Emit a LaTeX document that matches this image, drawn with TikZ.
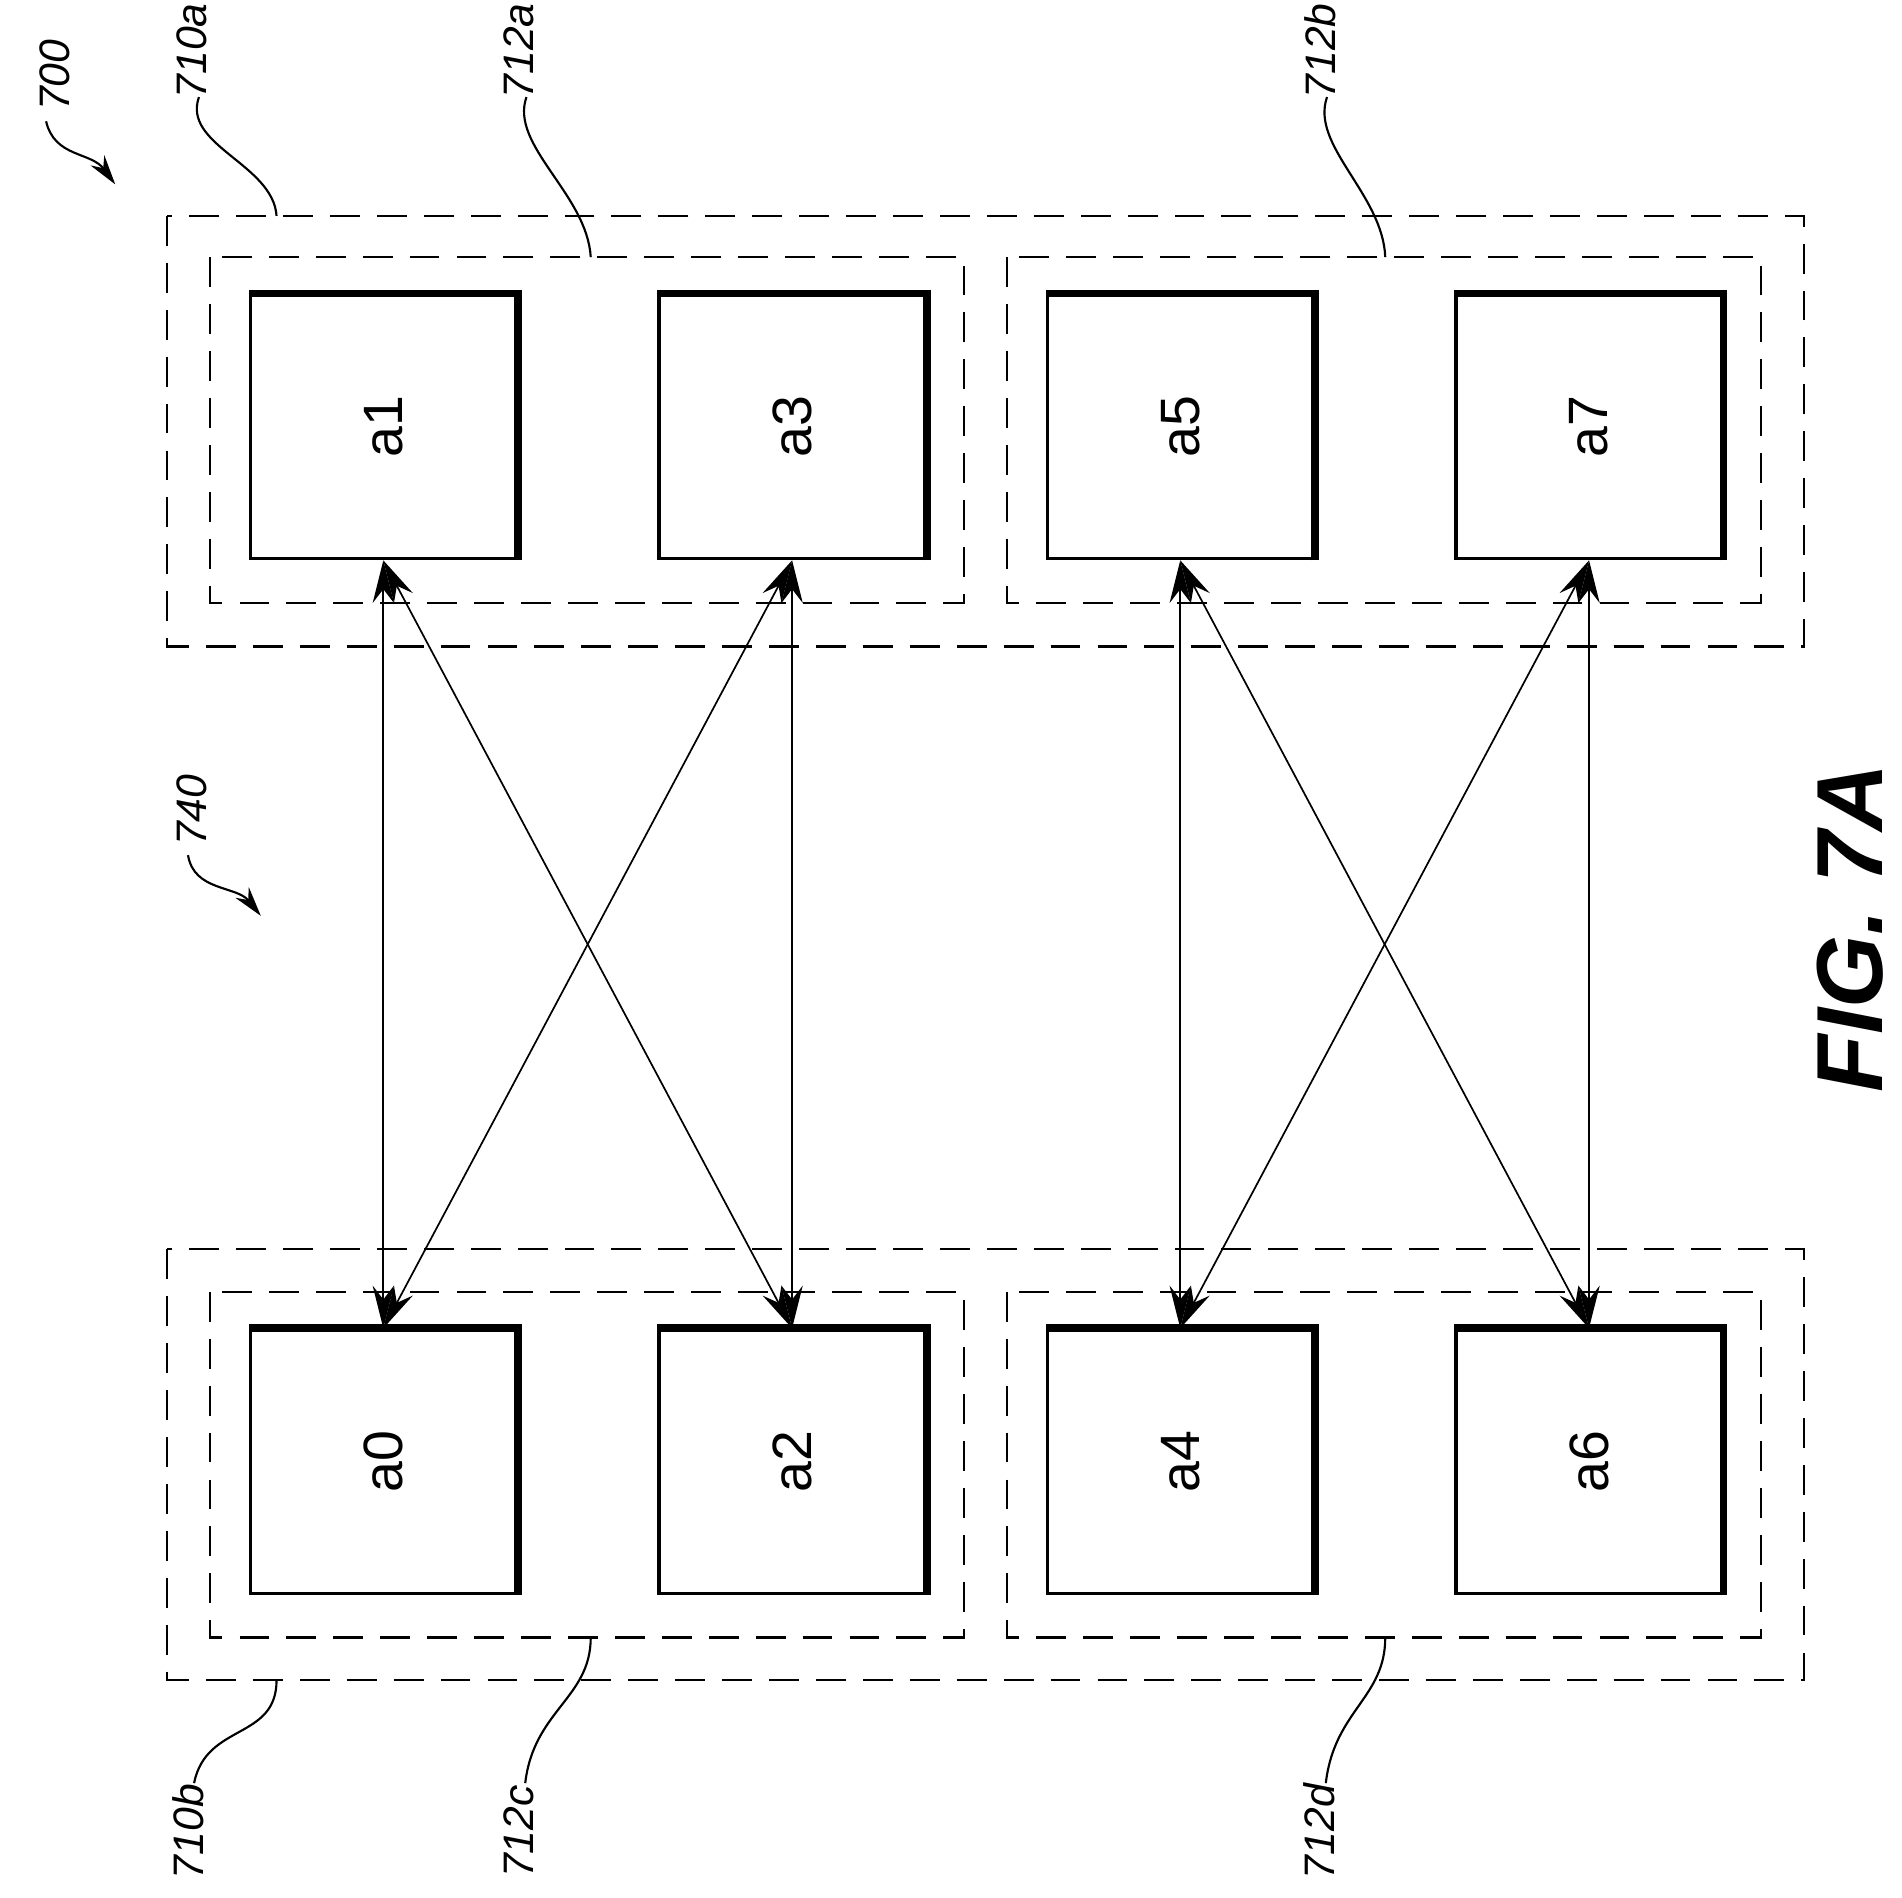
\documentclass[tikz,border=0pt]{standalone}
\usepackage{fontspec}
\setmainfont{Liberation Sans}
\usetikzlibrary{arrows.meta}

\begin{document}
\begin{tikzpicture}[
            x = 0.01cm, y = -0.01cm,
            > = {Stealth[length=10pt, width=5pt]}, % arrow head style
            grp/.style = {draw, dashed, dash pattern=on 7pt off 4pt, line width=0.5pt},
            cell/.style = {draw, line width=0.8pt, minimum width=2.17cm, minimum height=2.19cm,
                           inner sep=0pt, font=\fontsize{13}{13}\selectfont, rotate=90},
            lbl/.style = {font=\fontsize{10}{10}\selectfont\itshape, rotate=90},
            lead/.style = {line width=0.5pt}
  ]
        \useasboundingbox (0,0) rectangle (1568,1564);

        % group outlines
        \draw[grp] (138,178) rectangle (1487,533);
        \draw[grp] (173,212) rectangle (795,497);
        \draw[grp] (830,212) rectangle (1452,497);
        \draw[grp] (138,1030) rectangle (1487,1385);
        \draw[grp] (173,1065) rectangle (795,1350);
        \draw[grp] (830,1065) rectangle (1452,1350);

        % cells
        \node[cell] (a1) at (316,352) {a1};
        \node[cell] (a3) at (653,352) {a3};
        \node[cell] (a5) at (973,352) {a5};
        \node[cell] (a7) at (1310,352) {a7};
        \node[cell] (a0) at (316,1205) {a0};
        \node[cell] (a2) at (653,1205) {a2};
        \node[cell] (a4) at (973,1205) {a4};
        \node[cell] (a6) at (1310,1205) {a6};

        % heavier right and top edges
        \foreach \c in {a0,a1,a2,a3,a4,a5,a6,a7}
            \draw[line width=1.8pt] (\c.south west) -- (\c.south east) -- (\c.north east);

        % links (rotated nodes: east = top, west = bottom)
        \draw[<->] (a1.west) -- (a0.east);
        \draw[<->] (a1.west) -- (a2.east);
        \draw[<->] (a3.west) -- (a0.east);
        \draw[<->] (a3.west) -- (a2.east);
        \draw[<->] (a5.west) -- (a4.east);
        \draw[<->] (a5.west) -- (a6.east);
        \draw[<->] (a7.west) -- (a4.east);
        \draw[<->] (a7.west) -- (a6.east);

        % reference labels
        \node[lbl] (n700) at (45,62) {700};
        \draw[lead, ->, > = {Stealth[length=7pt, width=4pt]}] (38,100) .. controls (45,130) and (75,125) .. (95,152);
        \node[lbl] (n710a) at (158,42) {710a};
        \draw[lead] (164,80) .. controls (150,120) and (225,135) .. (228,178);
        \node[lbl] (n712a) at (428,42) {712a};
        \draw[lead] (434,80) .. controls (420,120) and (484,160) .. (487,212);
        \node[lbl] (n712b) at (1088,42) {712b};
        \draw[lead] (1094,80) .. controls (1080,120) and (1140,160) .. (1142,212);
        \node[lbl] (n740) at (158,668) {740};
        \draw[lead, ->, > = {Stealth[length=7pt, width=4pt]}] (155,705) .. controls (160,735) and (195,730) .. (215,755);
        \node[lbl] (n710b) at (155,1510) {710b};
        \draw[lead] (160,1470) .. controls (170,1420) and (228,1435) .. (228,1385);
        \node[lbl] (n712c) at (428,1510) {712c};
        \draw[lead] (433,1470) .. controls (440,1410) and (487,1400) .. (487,1350);
        \node[lbl] (n712d) at (1088,1510) {712d};
        \draw[lead] (1093,1470) .. controls (1100,1410) and (1142,1400) .. (1142,1350);

        \node[rotate=90, font=\fontsize{22}{22}\selectfont\bfseries\itshape] (fig) at (1525,765) {FIG. 7A};
\end{tikzpicture}
\end{document}
